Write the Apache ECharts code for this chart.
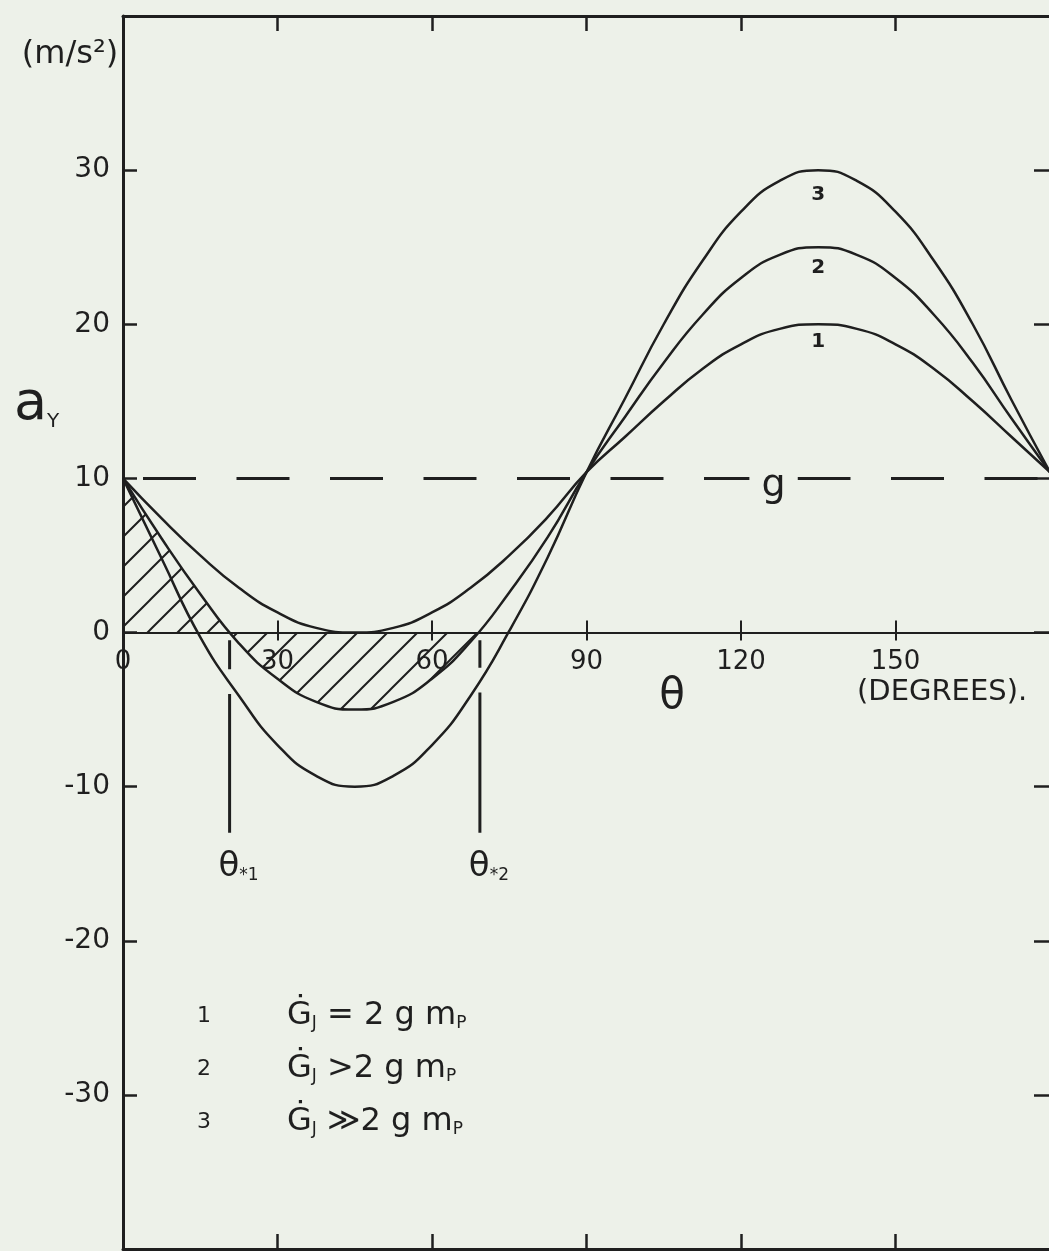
<!DOCTYPE html>
<html>
<head>
<meta charset="utf-8">
<script src="https://cdn.jsdelivr.net/npm/echarts@6/dist/echarts.min.js"></script>
<style>
  html, body { margin: 0; padding: 0; background: #edf1e9; }
  #chart { width: 1049px; height: 1251px; }
</style>
</head>
<body>
<div id="chart"></div>
<script>
// Vertical acceleration a_Y against angle θ for three jet-thrust settings.
const theta  = [0, 7.5, 15, 22.5, 30, 37.5, 45, 52.5, 60, 67.5, 75, 82.5, 90,
                97.5, 105, 112.5, 120, 127.5, 135, 142.5, 150, 157.5, 165, 172.5, 180];
const curve1 = [10, 7.4, 5.0, 2.9, 1.3, 0.3, 0.0, 0.3, 1.3, 2.9, 5.0, 7.5, 10.4,
                12.7, 15.0, 17.1, 18.7, 19.7, 20.0, 19.7, 18.7, 17.1, 15.0, 12.7, 10.4];
const curve2 = [10, 6.1, 2.5, -0.7, -3.0, -4.5, -5.0, -4.5, -3.0, -0.6, 2.6, 6.2, 10.4,
                14.0, 17.5, 20.6, 23.0, 24.5, 25.0, 24.5, 23.0, 20.6, 17.5, 13.9, 10.4];
const curve3 = [10, 4.8, -0.3, -4.1, -7.3, -9.3, -10.0, -9.3, -7.3, -4.1, 0.1, 4.9, 10.4,
                15.2, 20.0, 24.1, 27.3, 29.3, 30.0, 29.3, 27.3, 24.1, 20.0, 15.1, 10.4];
const curveNames = ['1', '2', '3'];

const gValue = 10;          // gravity reference line
const gLabelAt = 126.3;     // where the "g" sits on that line
const thetaStar = [20.7, 69.3];      // roots of curve 2
const thetaStarNames = ['1', '2'];
const starLineSpan = [-0.5, -13];

const xRange = [0, 180], xStep = 30;
const yRange = [-40, 40], yStep = 10;

const legendKeys = ['1', '2', '3'];
const legendRelations = ['=', '>', '≫'];

// ---- styling ----
const INK = '#1f1f1f';
const BG = '#edf1e9';
const FONT = 'DejaVu Sans';
const peakLabelDistance = [8, 11, 15];
const GRID = { left: 123, top: 16, width: 927, height: 1233 };
// the θ axis runs along a = 0, measured up from the bottom edge of the plot
const zeroOffset = -GRID.height * (0 - yRange[0]) / (yRange[1] - yRange[0]);

function hatchPattern() {
  const P = 30;
  const c = document.createElement('canvas');
  c.width = P; c.height = P;
  const ctx = c.getContext('2d');
  ctx.strokeStyle = INK;
  ctx.lineWidth = 2;
  ctx.beginPath();
  ctx.moveTo(-2, P + 2); ctx.lineTo(P + 2, -2);
  ctx.moveTo(-2, 2); ctx.lineTo(2, -2);
  ctx.moveTo(P - 2, P + 2); ctx.lineTo(P + 2, P - 2);
  ctx.stroke();
  return c;
}

function interp(xs, ys, x) {
  for (let i = 1; i < xs.length; i++) {
    if (x <= xs[i]) {
      const t = (x - xs[i - 1]) / (xs[i] - xs[i - 1]);
      return ys[i - 1] + t * (ys[i] - ys[i - 1]);
    }
  }
  return ys[ys.length - 1];
}

// curves
const curveSeries = [curve1, curve2, curve3].map((ys, k) => {
  const peak = ys.indexOf(Math.max(...ys));
  return {
    type: 'line', name: curveNames[k], smooth: true, silent: true, z: 4,
    symbol: 'circle', symbolSize: 0, showSymbol: true,
    lineStyle: { color: INK, width: 2.5 },
    data: theta.map((t, i) => i === peak
      ? { value: [t, ys[i]], label: { show: true, formatter: curveNames[k], position: 'bottom',
          distance: peakLabelDistance[k], fontSize: 20, fontWeight: 'bold', fontFamily: FONT, color: INK } }
      : [t, ys[i]])
  };
});

// hatched region between curve 2 and the zero line, up to θ*2
const hatchData = theta.map((t, i) => [t, curve2[i]]).filter(p => p[0] < thetaStar[1]);
hatchData.push([thetaStar[1], 0]);
const hatchSeries = {
  type: 'line', name: 'hatch', smooth: true, silent: true, z: 2,
  symbol: 'none', data: hatchData,
  lineStyle: { width: 0, opacity: 0 },
  areaStyle: { color: { image: hatchPattern(), repeat: 'repeat' }, opacity: 1 }
};

// g reference line
const gSeries = {
  type: 'line', name: 'g', silent: true, z: 3,
  symbol: 'circle', symbolSize: 0, showSymbol: true,
  lineStyle: { color: INK, width: 3, type: [53, 40.5], dashOffset: 73.5 },
  data: [
    [xRange[0], gValue],
    { value: [gLabelAt, gValue], label: { show: true, formatter: 'g', position: 'inside',
      fontSize: 38, fontFamily: FONT, color: INK, backgroundColor: BG, padding: [0, 12, 0, 12], offset: [0, 8] } },
    [xRange[1], gValue]
  ]
};

// θ* marker lines, broken where curve 3 crosses them
const starSeries = thetaStar.map((t, k) => {
  const c3 = interp(theta, curve3, t);
  return {
    type: 'line', name: 'θ*' + thetaStarNames[k], silent: true, z: 3,
    symbol: 'circle', symbolSize: 0, showSymbol: true, connectNulls: false,
    lineStyle: { color: INK, width: 3 },
    data: [
      [t, starLineSpan[0]], [t, c3 + 0.8], [t, '-'], [t, c3 - 0.8],
      { value: [t, starLineSpan[1]], label: { show: true, position: 'bottom', distance: 11, offset: [9, 0],
        formatter: '{t|θ}{s|*' + thetaStarNames[k] + '}',
        rich: {
          t: { fontSize: 34, fontFamily: FONT, color: INK, lineHeight: 40, verticalAlign: 'bottom' },
          s: { fontSize: 17, fontFamily: FONT, color: INK, lineHeight: 6, verticalAlign: 'bottom' }
        } } }
    ]
  };
});

const xBase = { type: 'value', min: xRange[0], max: xRange[1], interval: xStep, splitLine: { show: false } };
const yBase = { type: 'value', min: yRange[0], max: yRange[1], interval: yStep, splitLine: { show: false } };
const borderLine = { onZero: false, lineStyle: { color: INK, width: 3 } };
const borderTick = { inside: true, length: 15, lineStyle: { color: INK, width: 2.5 } };

// text annotations
const legendGraphics = [];
legendKeys.forEach((key, i) => {
  const y = 1014 + i * 53;
  legendGraphics.push({
    type: 'text', x: 204, y: y + 2,
    style: { text: key, font: '22px "' + FONT + '"', fill: INK, align: 'center', verticalAlign: 'middle' }
  });
  legendGraphics.push({
    type: 'text', x: 287, y: y,
    style: {
      text: '{m|Ġ}{s|J}{m| ' + legendRelations[i] + (i === 0 ? ' ' : '') + '2 g m}{s|P}',
      align: 'left', verticalAlign: 'middle',
      rich: {
        m: { fontSize: 32, fontFamily: FONT, fill: INK, lineHeight: 36, verticalAlign: 'bottom' },
        s: { fontSize: 17, fontFamily: FONT, fill: INK, lineHeight: 12, verticalAlign: 'bottom' }
      }
    }
  });
});

const option = {
  backgroundColor: BG,
  animation: false,
  grid: { ...GRID, outerBoundsMode: 'none', containLabel: false },
  xAxis: [
    { ...xBase, position: 'bottom', axisLine: borderLine, axisTick: borderTick, axisLabel: { show: false } },
    { ...xBase, position: 'top', axisLine: borderLine, axisTick: borderTick, axisLabel: { show: false } },
    { ...xBase, position: 'bottom', offset: zeroOffset,
      axisLine: { onZero: false, lineStyle: { color: INK, width: 2 } },
      axisTick: { inside: true, length: 12, lineStyle: { color: INK, width: 2 } },
      axisLabel: { show: true, margin: 17, fontSize: 26, fontFamily: FONT, color: INK,
        formatter: v => (v === xRange[1] ? '' : String(v)) } },
    { ...xBase, position: 'bottom', offset: zeroOffset,
      axisLine: { show: false, onZero: false },
      axisTick: { inside: false, length: 8, lineStyle: { color: INK, width: 2 } },
      axisLabel: { show: false } }
  ],
  yAxis: [
    { ...yBase, position: 'left', axisLine: borderLine, axisTick: { ...borderTick, length: 14 },
      axisLabel: { show: true, margin: 13, fontSize: 28, fontFamily: FONT, color: INK,
        formatter: v => (Math.abs(v) === yRange[1] ? '' : String(v)) } },
    { ...yBase, position: 'right', axisLine: borderLine, axisTick: { ...borderTick, length: 16 },
      axisLabel: { show: false } }
  ],
  series: [hatchSeries, gSeries, ...starSeries, ...curveSeries],
  graphic: [
    { type: 'text', x: 70, y: 55,
      style: { text: '(m/s²)', font: '32px "' + FONT + '"', fill: INK, align: 'center', verticalAlign: 'middle' } },
    { type: 'text', x: 14, y: 402,
      style: { text: '{a|a}{s|Y}', align: 'left', verticalAlign: 'middle',
        rich: {
          a: { fontSize: 54, fontFamily: FONT, fill: INK, lineHeight: 60, verticalAlign: 'bottom' },
          s: { fontSize: 20, fontFamily: FONT, fill: INK, lineHeight: 44, verticalAlign: 'bottom' }
        } } },
    { type: 'text', x: 672, y: 697,
      style: { text: 'θ', font: '42px "' + FONT + '"', fill: INK, align: 'center', verticalAlign: 'middle' } },
    { type: 'text', x: 857, y: 692,
      style: { text: '(DEGREES).', font: '29px "' + FONT + '"', fill: INK, align: 'left', verticalAlign: 'middle' } },
    ...legendGraphics
  ]
};

const chart = echarts.init(document.getElementById('chart'), null, { renderer: 'canvas' });
chart.setOption(option);
</script>
</body>
</html>
